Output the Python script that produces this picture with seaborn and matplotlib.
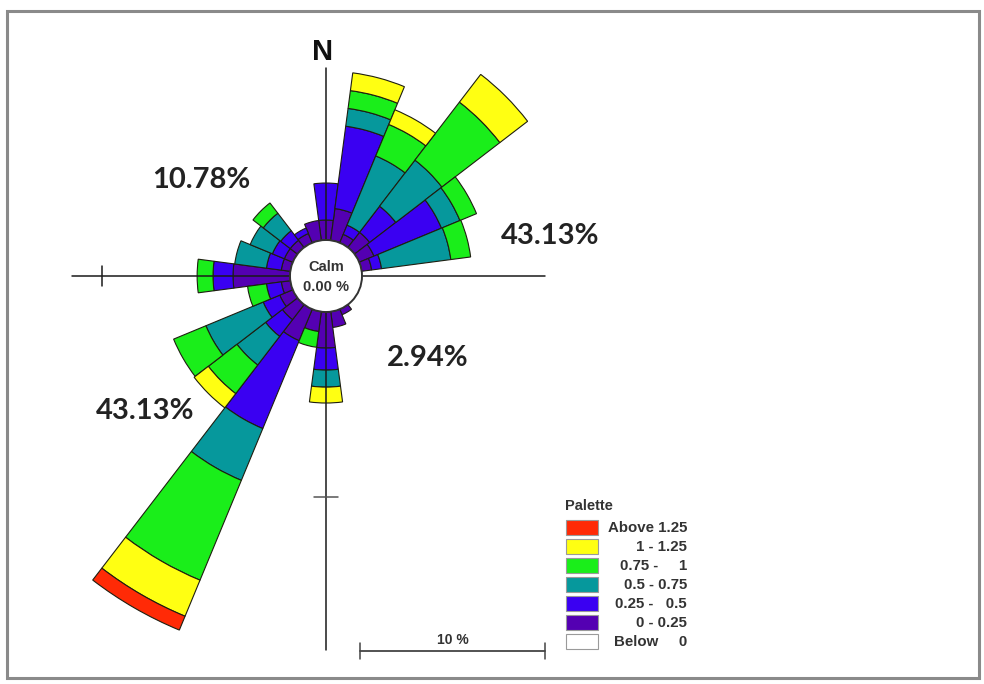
import numpy as np
import matplotlib
matplotlib.use("Agg")
import matplotlib.pyplot as plt
from matplotlib.patches import Circle, Rectangle
import seaborn as sns

# ---- wind rose data (frequency in %, per 15-degree sector) ----
directions = [0, 15, 30, 45, 60, 75, 90, 105, 120, 135, 150, 165,
              180, 195, 210, 225, 240, 255, 270, 285, 300, 315, 330, 345]
freq_0_025 = [1.08, 1.73, 0.49, 1.03, 0.86, 0.54, 0, 0, 0, 0, 0.32, 0.86,
              1.95, 1.08, 1.84, 1.03, 0.76, 0.49, 3.08, 0.49, 0.49, 0.49, 0.54, 1.08]
freq_025_05 = [2.00, 4.49, 0.54, 1.78, 3.95, 0.54, 0, 0, 0, 0, 0, 0,
               1.19, 0, 5.14, 1.14, 0.97, 0.81, 1.08, 0.81, 0.70, 0.65, 0.32, 0]
freq_05_075 = [0, 0.97, 4.05, 3.14, 1.08, 3.78, 0, 0, 0, 0, 0, 0,
               0.92, 0, 3.03, 1.95, 3.35, 0, 0, 1.73, 1.30, 1.19, 0, 0]
freq_075_1 = [0, 0.97, 1.84, 3.95, 0.97, 1.08, 0, 0, 0, 0, 0, 0,
              0, 0.86, 5.84, 1.95, 1.89, 1.03, 0.86, 0, 0, 0.70, 0, 0]
freq_1_125 = [0, 0.97, 0.86, 1.89, 0, 0, 0, 0, 0, 0, 0, 0,
              0.86, 0, 2.11, 0.97, 0, 0, 0, 0, 0, 0, 0, 0]
freq_above_125 = [0, 0, 0, 0, 0, 0, 0, 0, 0, 0, 0, 0,
                  0, 0, 0.81, 0, 0, 0, 0, 0, 0, 0, 0, 0]

class_labels = ["0 - 0.25", "0.25 -   0.5", "0.5 - 0.75", "0.75 -     1",
                "1 - 1.25", "Above 1.25"]
below_label = "Below     0"
calm_pct = 0.00
quadrant_labels = ["43.13%", "2.94%", "43.13%", "10.78%"]
scale_pct = 10

# ---- styling ----
sns.set_theme(style="white")
plt.rcParams["font.family"] = ["Liberation Sans", "DejaVu Sans"]
class_colors = sns.color_palette(["#5400b2", "#3a00f2", "#06989c",
                                  "#1aee1a", "#ffff12", "#ff2a06"])

W, H = 984, 684
CX, CY = 326, 276          # rose centre in pixels
PX_PER_PCT = 18.5          # radial scale
CALM_PX = 36               # calm circle radius
R_AX = 400                 # polar axes radius in pixels
calm_r = CALM_PX / PX_PER_PCT

fig = plt.figure(figsize=(W / 100, H / 100), dpi=100)
fig.patch.set_facecolor("white")

# polar axes for the rose bars
ax = fig.add_axes([(CX - R_AX) / W, (H - CY - R_AX) / H, 2 * R_AX / W, 2 * R_AX / H],
                  projection="polar")
ax.set_theta_zero_location("N")
ax.set_theta_direction(-1)
ax.set_ylim(0, R_AX / PX_PER_PCT)
ax.set_axis_off()

theta = np.deg2rad(directions)
width = np.deg2rad(15)
series = [freq_0_025, freq_025_05, freq_05_075, freq_075_1, freq_1_125, freq_above_125]
bottom = np.full(len(directions), calm_r)
for vals, col in zip(series, class_colors):
    vals = np.asarray(vals, dtype=float)
    m = vals > 0
    ax.bar(theta[m], vals[m], width=width, bottom=bottom[m], color=col,
           edgecolor="#1e1e10", linewidth=0.8, align="center")
    bottom = bottom + vals

# overlay in pixel coordinates for axes lines, labels, legend
ov = fig.add_axes([0, 0, 1, 1])
ov.set_xlim(0, W)
ov.set_ylim(H, 0)
ov.set_axis_off()
ov.patch.set_alpha(0)

lc = "#1a1a1a"
ov.plot([CX, CX], [CY - CALM_PX, 68], color=lc, lw=1.1)
ov.plot([CX, CX], [CY + CALM_PX, 650], color=lc, lw=1.1)
ov.plot([CX - CALM_PX, 72], [CY, CY], color=lc, lw=1.1)
ov.plot([CX + CALM_PX, 545], [CY, CY], color=lc, lw=1.1)
tick_r = CALM_PX + scale_pct * PX_PER_PCT
ov.plot([CX - tick_r - 3, CX - tick_r - 3], [CY - 10, CY + 10], color=lc, lw=1.1)
ov.plot([CX - 12, CX + 12], [CY + tick_r, CY + tick_r], color="#555555", lw=1.1)

ov.add_patch(Circle((CX, CY), CALM_PX, facecolor="white", edgecolor="#333333",
                    lw=1.4, zorder=5))
ov.text(CX, CY - 9, "Calm", ha="center", va="center", fontsize=10.5,
        fontweight="bold", color="#333333", zorder=6)
ov.text(CX, CY + 11, f"{calm_pct:.2f} %", ha="center", va="center", fontsize=10.5,
        fontweight="bold", color="#333333", zorder=6)

ov.text(CX - 3, 52, "N", ha="center", va="center", fontsize=21,
        fontweight="bold", color="#111111",
        family=["Liberation Sans Narrow", "Liberation Sans", "DejaVu Sans"])

qfont = dict(fontsize=21, fontweight="bold", color="#222222",
             family=["Lato", "DejaVu Sans"], ha="center", va="center")
ov.text(550, 236, quadrant_labels[0], **qfont)
ov.text(428, 358, quadrant_labels[1], **qfont)
ov.text(145, 411, quadrant_labels[2], **qfont)
ov.text(201, 180, quadrant_labels[3], **qfont)

# scale bar
sb_x0 = 360
sb_x1 = sb_x0 + scale_pct * PX_PER_PCT
ov.plot([sb_x0, sb_x1], [651, 651], color="#444444", lw=1.3)
ov.plot([sb_x0, sb_x0], [643, 659], color="#444444", lw=1.1)
ov.plot([sb_x1, sb_x1], [643, 659], color="#444444", lw=1.1)
ov.text((sb_x0 + sb_x1) / 2, 640, f"{scale_pct} %", ha="center", va="center",
        fontsize=10, fontweight="bold", color="#333333")

# palette legend
ov.text(565, 506, "Palette", ha="left", va="center", fontsize=10.5,
        fontweight="bold", color="#333333")
leg_labels = class_labels[::-1] + [below_label]
leg_colors = list(class_colors)[::-1] + ["white"]
for i, (lab, col) in enumerate(zip(leg_labels, leg_colors)):
    y0 = 520 + 19 * i
    ov.add_patch(Rectangle((566, y0), 32, 15, facecolor=col, edgecolor="#9a9a9a", lw=0.8))
    ov.text(687, y0 + 8, lab, ha="right", va="center", fontsize=10.8,
            fontweight="bold", color="#333333")

# panel border
ov.add_patch(Rectangle((7, 11), 972, 667, facecolor="none", edgecolor="#8a8a8a",
                       lw=2.2, zorder=10))

fig.savefig("out.png", dpi=100, facecolor="white")
